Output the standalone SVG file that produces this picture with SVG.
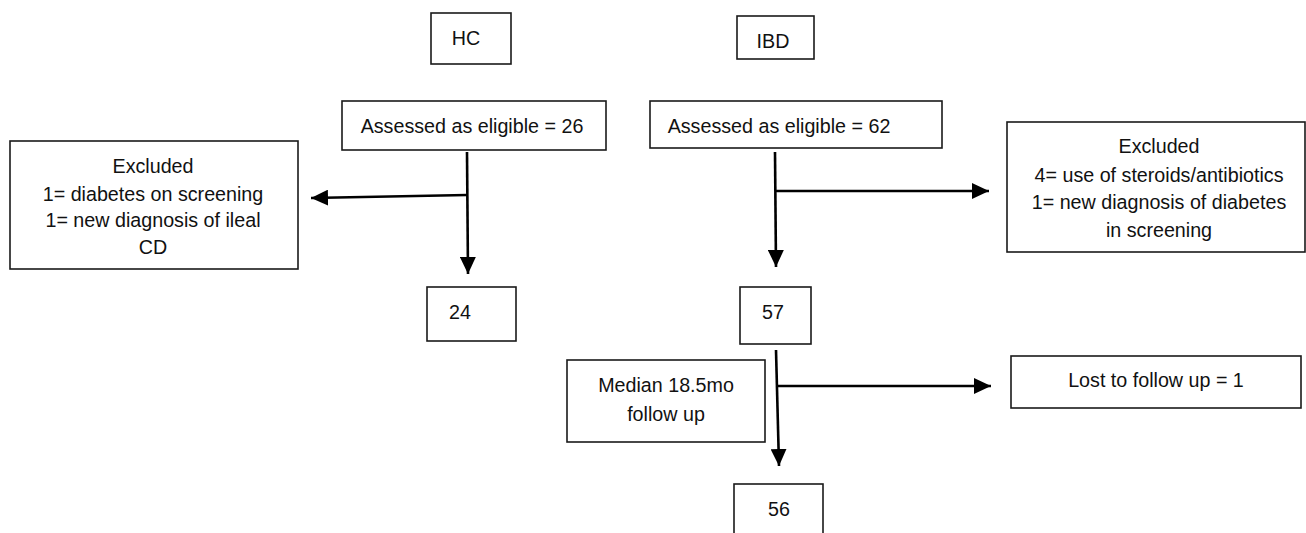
<svg xmlns="http://www.w3.org/2000/svg" width="1306" height="533" viewBox="0 0 1306 533">
<style>
.box{fill:#fff;stroke:#1a1a1a;stroke-width:1.6}
text{font-family:"Liberation Sans",Arial,sans-serif;font-size:19.7px;fill:#111;text-anchor:middle}
.conn{stroke:#000;stroke-width:2.6;fill:none}
</style>
<defs>
<marker id="arr" markerUnits="userSpaceOnUse" markerWidth="17" markerHeight="16" refX="17" refY="8" orient="auto">
<path d="M0,0 L17,8 L0,16 Z" fill="#000"/>
</marker>
</defs>
<rect width="1306" height="533" fill="#fff"/>
<g id="hc"><rect class="box" x="431" y="13" width="80" height="51"/><text x="466" y="45">HC</text></g>
<g id="ibd"><rect class="box" x="737" y="16" width="77" height="43"/><text x="773" y="48">IBD</text></g>
<g id="assessed26"><rect class="box" x="342" y="101" width="264" height="49"/><text x="472" y="133">Assessed as eligible = 26</text></g>
<g id="assessed62"><rect class="box" x="650" y="101" width="292" height="47"/><text x="779" y="133">Assessed as eligible = 62</text></g>
<g id="excludedHC"><rect class="box" x="10" y="141" width="288" height="128"/>
<text x="153" y="173">Excluded</text>
<text x="153" y="201">1= diabetes on screening</text>
<text x="153" y="227">1= new diagnosis of ileal</text>
<text x="153" y="254">CD</text></g>
<g id="excludedIBD"><rect class="box" x="1007" y="122" width="298" height="130"/>
<text x="1159" y="153">Excluded</text>
<text x="1159" y="182">4= use of steroids/antibiotics</text>
<text x="1159" y="209">1= new diagnosis of diabetes</text>
<text x="1159" y="237">in screening</text></g>
<g id="n24"><rect class="box" x="427" y="287" width="89" height="54"/><text x="460" y="319">24</text></g>
<g id="n57"><rect class="box" x="740" y="287" width="71" height="57"/><text x="773" y="319">57</text></g>
<g id="median"><rect class="box" x="567" y="360" width="198" height="82"/>
<text x="666" y="392">Median 18.5mo</text>
<text x="666" y="421">follow up</text></g>
<g id="lost"><rect class="box" x="1011" y="356" width="290" height="52"/><text x="1156" y="387">Lost to follow up = 1</text></g>
<g id="n56"><rect class="box" x="734" y="484" width="89" height="60"/><text x="779" y="516">56</text></g>
<g id="connectors">
<line class="conn" x1="467" y1="152" x2="468" y2="274" marker-end="url(#arr)"/>
<line class="conn" x1="467" y1="195" x2="311" y2="198" marker-end="url(#arr)"/>
<line class="conn" x1="775" y1="152" x2="776" y2="267" marker-end="url(#arr)"/>
<line class="conn" x1="775" y1="191" x2="989" y2="191" marker-end="url(#arr)"/>
<line class="conn" x1="776" y1="350" x2="779" y2="466" marker-end="url(#arr)"/>
<line class="conn" x1="776" y1="386" x2="991" y2="386" marker-end="url(#arr)"/>
</g>
</svg>
